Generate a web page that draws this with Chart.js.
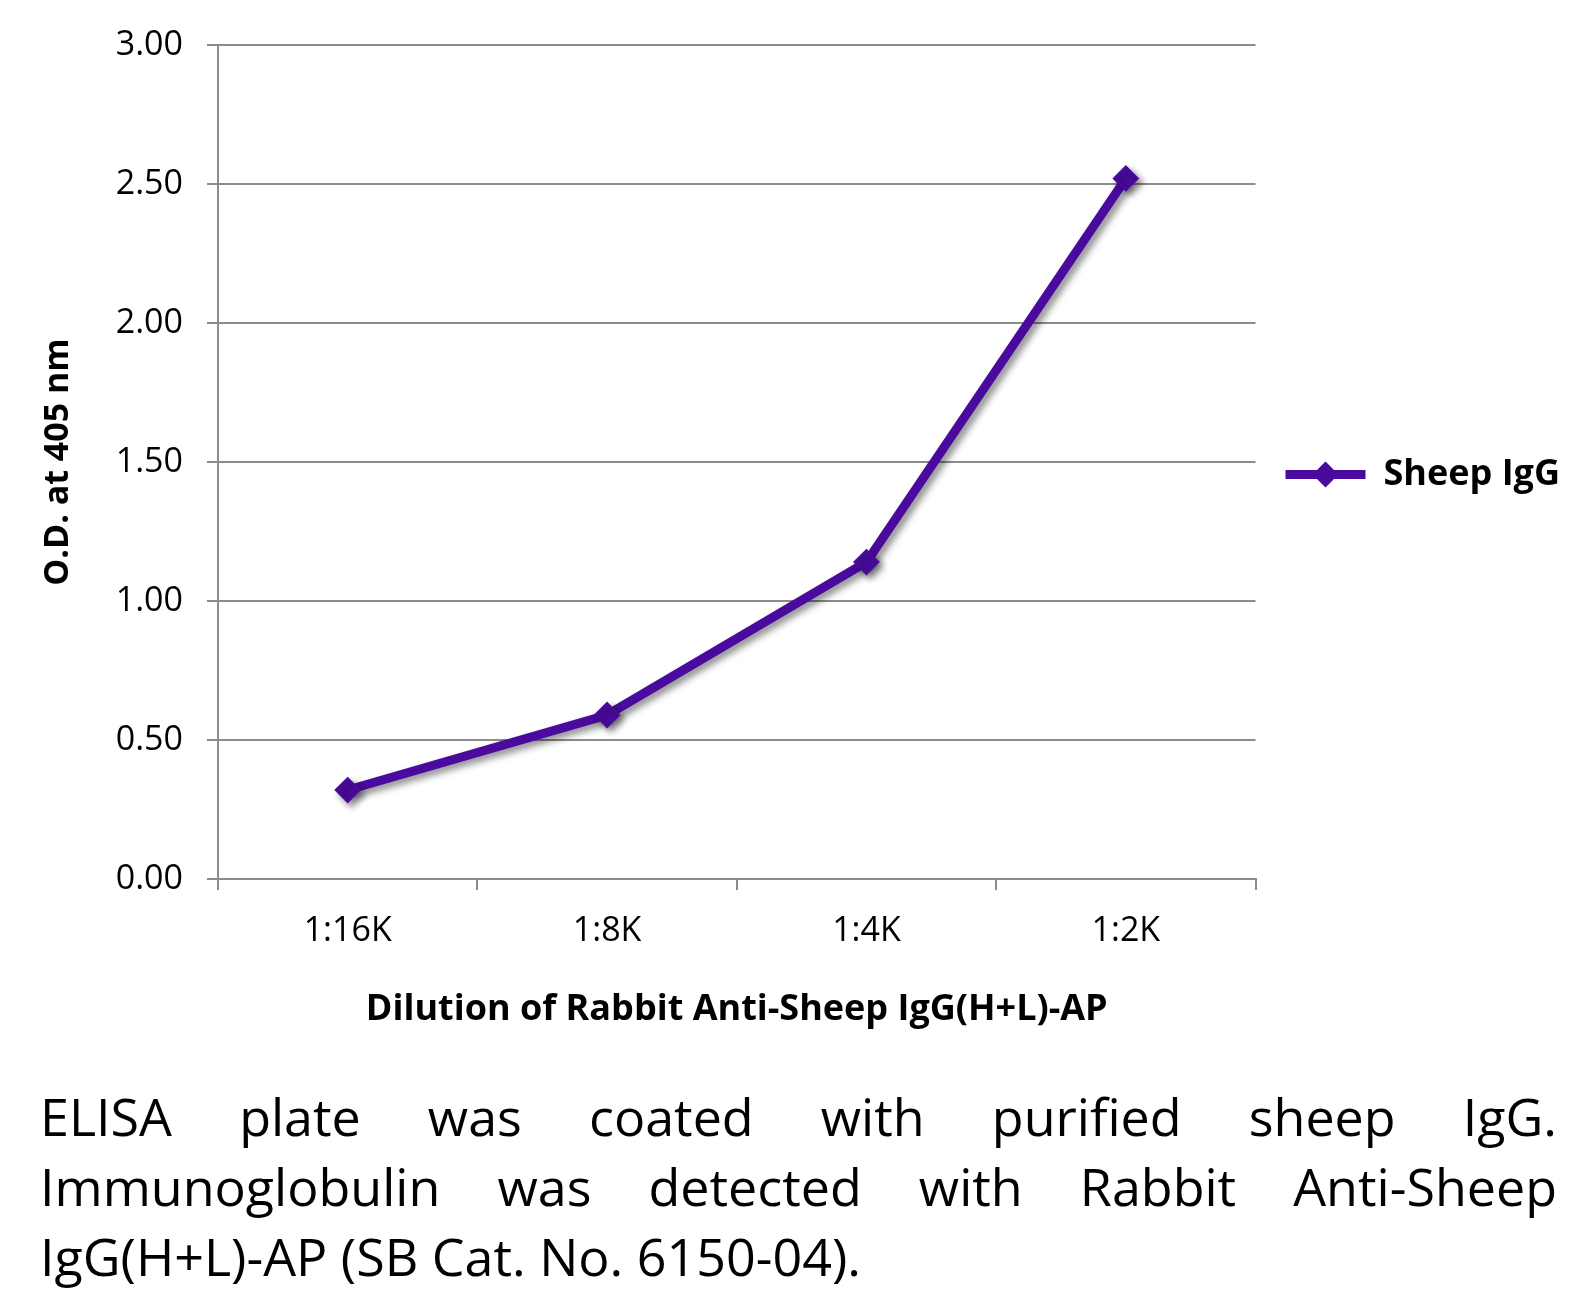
<!DOCTYPE html>
<html>
<head>
<meta charset="utf-8">
<script src="https://cdn.jsdelivr.net/npm/chart.js@4.4.1/dist/chart.umd.min.js"></script>
<style>
  body { margin: 0; background: #fff; }
  #wrap { position: relative; width: 1590px; height: 1050px; }
  #caption { margin: 31px 33px 0 40px; font-family: 'Open Sans', sans-serif; font-size: 52px; line-height: 70px; color: #000; }
  #caption div { text-align: justify; text-align-last: justify; white-space: nowrap; }
  #caption div.last { text-align-last: left; }
</style>
</head>
<body>
<div id="wrap"><canvas id="elisa"></canvas></div>
<div id="caption">
  <div>ELISA plate was coated with purified sheep IgG.</div>
  <div>Immunoglobulin was detected with Rabbit Anti-Sheep</div>
  <div class="last">IgG(H+L)-AP (SB Cat. No. 6150-04).</div>
</div>
<script>
// data
const dilutions = ['1:16K', '1:8K', '1:4K', '1:2K'];
const sheepIgG = [0.32, 0.59, 1.14, 2.52];
const seriesName = 'Sheep IgG';
const yMin = 0, yMax = 3, yStep = 0.5;

const lineColor = '#4a0a9e';
const gridColor = '#8c8c8c';

Chart.defaults.font.family = "'Open Sans', sans-serif";
Chart.defaults.color = '#000';

// soft drop shadow behind the line, like the office chart
const lineShadow = {
  id: 'lineShadow',
  beforeDatasetsDraw(chart) {
    const c = chart.ctx;
    c.save();
    c.shadowColor = 'rgba(0,0,0,0.45)';
    c.shadowBlur = 7;
    c.shadowOffsetX = 4;
    c.shadowOffsetY = 4;
  },
  afterDatasetsDraw(chart) {
    chart.ctx.restore();
  }
};

// put a diamond on the middle of the legend line
const legendMarker = {
  id: 'legendMarker',
  afterDraw(chart) {
    const hb = chart.legend.legendHitBoxes[0];
    if (!hb) return;
    const lab = chart.options.plugins.legend.labels;
    const c = chart.ctx;
    const x = hb.left + lab.boxWidth / 2;
    const y = hb.top + lab.font.size / 2;
    const r = 13;
    c.save();
    c.fillStyle = lineColor;
    c.beginPath();
    c.moveTo(x - r, y);
    c.lineTo(x, y - r);
    c.lineTo(x + r, y);
    c.lineTo(x, y + r);
    c.closePath();
    c.fill();
    c.restore();
  }
};

new Chart(document.getElementById('elisa'), {
  type: 'line',
  data: {
    labels: dilutions,
    datasets: [{
      label: seriesName,
      data: sheepIgG,
      borderColor: lineColor,
      backgroundColor: lineColor,
      borderWidth: 9,
      pointStyle: 'rectRot',
      pointRadius: 12,
      pointBorderWidth: 2,
      pointBackgroundColor: lineColor,
      pointBorderColor: lineColor,
      tension: 0
    }]
  },
  options: {
    responsive: true,
    maintainAspectRatio: false,
    animation: false,
    layout: { padding: { top: 45, right: 20, bottom: 19, left: 0 } },
    plugins: {
      tooltip: { enabled: false },
      legend: {
        position: 'right',
        fullSize: false,
        // empty title only nudges the entry down a little
        title: { display: true, text: '', font: { size: 1 }, padding: { top: 12, bottom: 12 } },
        labels: {
          boxWidth: 80,
          boxHeight: 9,
          padding: 30,
          font: { size: 36, weight: 'bold' },
          generateLabels: () => [{
            text: seriesName,
            fillStyle: lineColor,
            strokeStyle: lineColor,
            lineWidth: 0,
            hidden: false,
            datasetIndex: 0
          }]
        }
      }
    },
    scales: {
      x: {
        offset: true,
        grid: { offset: true, drawOnChartArea: false, drawTicks: true, tickLength: 11, color: gridColor, lineWidth: 2 },
        border: { display: true, color: gridColor, width: 2 },
        ticks: { font: { size: 34 }, padding: 21 },
        title: {
          display: true,
          text: 'Dilution of Rabbit Anti-Sheep IgG(H+L)-AP',
          font: { size: 36, weight: 'bold' },
          padding: { top: 15, bottom: 0 }
        }
      },
      y: {
        min: yMin,
        max: yMax,
        afterFit: (s) => { s.width = 218; },
        grid: { color: gridColor, lineWidth: 2, tickLength: 11 },
        border: { display: true, color: gridColor, width: 2 },
        ticks: {
          stepSize: yStep,
          font: { size: 34 },
          padding: 24,
          callback: (v) => v.toFixed(2)
        },
        title: {
          display: true,
          text: 'O.D. at 405 nm',
          font: { size: 34, weight: 'bold' },
          padding: { top: 38, bottom: 0 }
        }
      }
    }
  },
  plugins: [lineShadow, legendMarker]
});
</script>
</body>
</html>
